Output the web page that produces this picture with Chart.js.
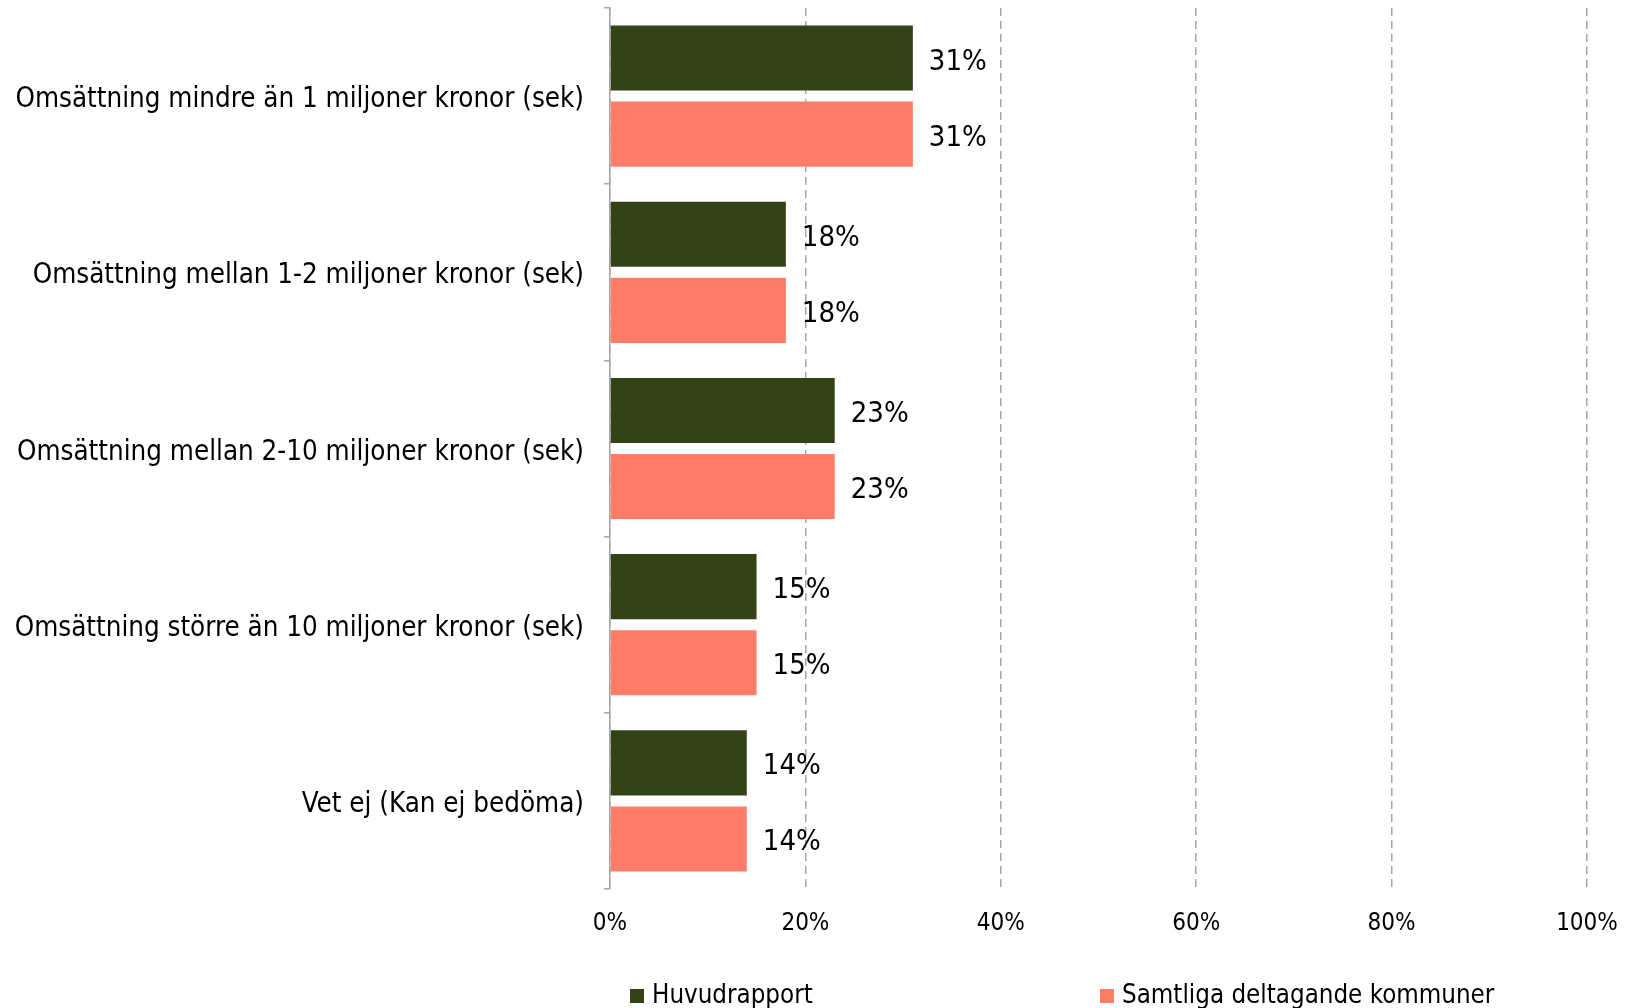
<!DOCTYPE html>
<html>
<head>
<meta charset="utf-8">
<script src="https://cdn.jsdelivr.net/npm/chart.js@4/dist/chart.umd.min.js"></script>
<style>
  html, body { margin: 0; padding: 0; background: #ffffff; }
  #wrap { width: 1628px; height: 1008px; }
</style>
</head>
<body>
<div id="wrap"><canvas id="mainGraph" width="1628" height="1008"></canvas></div>
<script>
var ctx = document.getElementById('mainGraph').getContext('2d');

const FONT = "'DejaVu Sans Condensed', 'DejaVu Sans', sans-serif";

const labels = [
  "Omsättning mindre än 1 miljoner kronor (sek)",
  "Omsättning mellan 1-2 miljoner kronor (sek)",
  "Omsättning mellan 2-10 miljoner kronor (sek)",
  "Omsättning större än 10 miljoner kronor (sek)",
  "Vet ej (Kan ej bedöma)"
];
const huvudrapport = [31, 18, 23, 15, 14];
const samtliga = [31, 18, 23, 15, 14];
const xTicks = [0, 20, 40, 60, 80, 100];

const data = {
  labels: labels,
  datasets: [
    {
      label: 'Huvudrapport',
      data: huvudrapport,
      backgroundColor: "#344218",
    },
    {
      label: 'Samtliga deltagande kommuner',
      data: samtliga,
      backgroundColor: "#FF7C68",
    }
  ]
};

// value labels at the end of each bar
const valueLabels = {
  id: 'valueLabels',
  afterDatasetsDraw(chart) {
    const c = chart.ctx;
    c.save();
    c.font = '29px ' + FONT;
    c.fillStyle = '#000000';
    c.textAlign = 'left';
    c.textBaseline = 'middle';
    chart.data.datasets.forEach((ds, i) => {
      chart.getDatasetMeta(i).data.forEach((bar, j) => {
        c.fillText(ds.data[j] + '%', bar.x + 16, bar.y + 4);
      });
    });
    c.restore();
  }
};

// legend row under the axis
const bottomLegend = {
  id: 'bottomLegend',
  afterDraw(chart) {
    const c = chart.ctx;
    const xs = [630, 1100];
    const y = 996;
    c.save();
    c.font = '25.7px ' + FONT;
    c.textBaseline = 'middle';
    c.textAlign = 'left';
    chart.data.datasets.forEach((ds, i) => {
      c.fillStyle = ds.backgroundColor;
      c.fillRect(xs[i], y - 7, 14, 14);
      c.fillStyle = '#000000';
      c.fillText(ds.label, xs[i] + 22, y);
    });
    c.restore();
  }
};

var chart = new Chart(ctx, {
    type: 'bar',
    data: data,
    plugins: [valueLabels, bottomLegend],
    options: {
        responsive: false,
        animation: false,
        indexAxis: 'y',
        layout: { padding: { top: 8, right: 41, bottom: 73, left: 0 } },
        datasets: {
          bar: { categoryPercentage: 0.864, barPercentage: 0.855 }
        },
        plugins: {
          legend: { display: false },
          tooltip: { enabled: false }
        },
        scales: {
          x: {
            min: 0,
            max: 100,
            afterBuildTicks(scale) {
              scale.ticks = xTicks.map(v => ({ value: v }));
            },
            afterFit(scale) {
              scale.height = 46;
              scale.paddingLeft = 0;
              scale.paddingRight = 0;
            },
            grid: {
              color: '#a6a6a6',
              lineWidth: 1.5,
              drawTicks: false
            },
            border: { display: false, dash: [8, 5] },
            ticks: {
              padding: 20,
              color: '#000000',
              font: { family: FONT, size: 24 },
              callback: v => v + '%'
            }
          },
          y: {
            afterFit(scale) {
              scale.width = 610;
              scale.paddingTop = 0;
              scale.paddingBottom = 0;
            },
            grid: {
              drawOnChartArea: false,
              drawTicks: true,
              tickLength: 6,
              color: '#a6a6a6',
              lineWidth: 1.5
            },
            border: { display: true, color: '#a6a6a6', width: 1.5 },
            ticks: {
              padding: 20,
              labelOffset: 4,
              color: '#000000',
              font: { family: FONT, size: 27.5 }
            }
          }
        }
      }
});
</script>
</body>
</html>
